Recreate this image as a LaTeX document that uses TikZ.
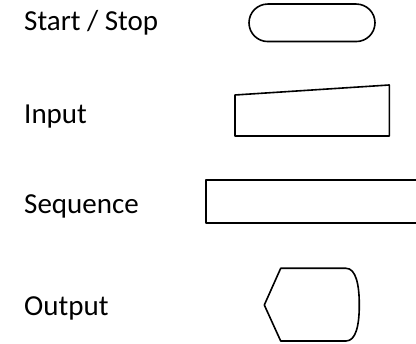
\documentclass[tikz,border=0pt]{standalone}
\usepackage{fontspec}
\setmainfont{Carlito}
\usetikzlibrary{positioning,shapes.misc}

\begin{document}
\begin{tikzpicture}[
x=1pt,y=-1pt,
lbl/.style={
  anchor=base west,
  inner sep=0pt,
  font=\fontsize{29}{34}\selectfont
  },
symb/.style={
  draw,
  line width=1.6pt,
  line join=round
  },
terminal/.style={
  symb,
  rounded rectangle,
  minimum width=126pt,
  minimum height=37.5pt,
  inner sep=0pt
  }
]
\useasboundingbox (0,0) rectangle (416,344);
% labels
\node[lbl] (startlbl) at (24,31) {Start / Stop};
\node[lbl] (inputlbl) at (24,124) {Input};
\node[lbl] (seqlbl) at (24,214) {Sequence};
\node[lbl] (outlbl) at (24,316) {Output};
% symbols
\node[terminal] (term) at (312,22.8) {};
\draw[symb] (235,95) -- (389.3,85) -- (389.3,136) -- (235,136) -- cycle;
\draw[symb] (420,180) -- (206,180) -- (206,223.3) -- (420,223.3);
\draw[symb] (264.3,305) -- (280.7,268.3) -- (346,268.3)
  .. controls (356,268.3) and (359.3,285) .. (359.3,305)
  .. controls (359.3,325) and (356,341) .. (346,341)
  -- (280.7,341) -- cycle;
\end{tikzpicture}
\end{document}
